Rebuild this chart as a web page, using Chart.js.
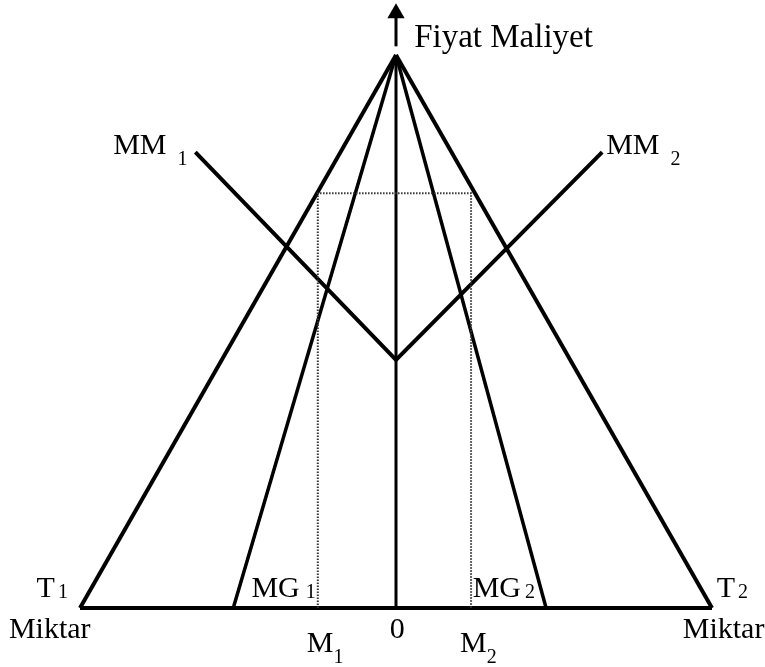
<!DOCTYPE html>
<html>
<head>
<meta charset="utf-8">
<script src="https://cdn.jsdelivr.net/npm/chart.js@4.4.1/dist/chart.umd.min.js"></script>
<style>
  html, body { margin: 0; padding: 0; background: #fff; }
  #wrap { width: 765px; height: 667px; }
</style>
</head>
<body>
<div id="wrap"><canvas id="diagram"></canvas></div>
<script>
// Data (x: quantity, left market negative / right market positive; y: price-cost)
const apex = { x: 0, y: 7 };
const demand1 = [{ x: -4, y: 0 }, apex];          // T1
const demand2 = [{ x: 4, y: 0 }, apex];           // T2
const marginalRev1 = [{ x: -2.06, y: 0 }, apex];  // MG1
const marginalRev2 = [{ x: 1.9, y: 0 }, apex];    // MG2
const quantityAxis = [{ x: -4, y: 0 }, { x: 4, y: 0 }];
const priceAxis = [{ x: 0, y: 0 }, apex];
const marginalCost = [{ x: -2.54, y: 5.77 }, { x: 0, y: 3.14 }, { x: 2.61, y: 5.77 }]; // MM1 - MM2
const optimum = [{ x: -0.99, y: 0 }, { x: -0.99, y: 5.25 }, { x: 0.95, y: 5.25 }, { x: 0.95, y: 0 }];
const arrow = [{ x: 0, y: 7.11 }, { x: 0, y: 7.53 }];

// labels: text, subscript, anchor (data units)
const labels = [
    { text: 'Fiyat Maliyet', sub: '', x: 0.23, y: 7.1, size: 33 },
    { text: 'MM', sub: '1', x: -3.58, y: 5.75, gap: 11, dy: 11 },
    { text: 'MM', sub: '2', x: 2.66, y: 5.75, gap: 11, dy: 11 },
    { text: 'T', sub: '1', x: -4.55, y: 0.14, gap: 3, dy: 1 },
    { text: 'T', sub: '2', x: 4.06, y: 0.14, gap: 3, dy: 1 },
    { text: 'MG', sub: '1', x: -1.83, y: 0.14, gap: 6, dy: 1 },
    { text: 'MG', sub: '2', x: 0.97, y: 0.14, gap: 4, dy: 1 },
    { text: 'Miktar', sub: '', x: -4.9, y: -0.38 },
    { text: 'Miktar', sub: '', x: 3.63, y: -0.38 },
    { text: '0', sub: '', x: -0.08, y: -0.38 },
    { text: 'M', sub: '1', x: -1.13, y: -0.56, gap: 0, dy: 11 },
    { text: 'M', sub: '2', x: 0.81, y: -0.56, gap: 0, dy: 11 }
];

const serif = "'Liberation Serif', 'Times New Roman', serif";

const labelPlugin = {
    id: 'labels',
    afterDatasetsDraw(chart) {
        const ctx = chart.ctx;
        const xs = chart.scales.x, ys = chart.scales.y;
        ctx.save();
        ctx.fillStyle = '#000';
        ctx.textBaseline = 'alphabetic';
        ctx.textAlign = 'left';
        labels.forEach(l => {
            const px = xs.getPixelForValue(l.x);
            const py = ys.getPixelForValue(l.y);
            ctx.font = (l.size || 30) + 'px ' + serif;
            ctx.fillText(l.text, px, py);
            if (l.sub) {
                const w = ctx.measureText(l.text).width;
                ctx.font = '20px ' + serif;
                ctx.fillText(l.sub, px + w + l.gap, py + l.dy);
            }
        });
        ctx.restore();
    }
};

function seg(data, width, extra) {
    return Object.assign({
        data: data,
        showLine: true,
        borderColor: '#000',
        borderWidth: width,
        pointRadius: 0,
        fill: false,
        clip: false
    }, extra || {});
}

const ctx = document.getElementById('diagram').getContext('2d');
new Chart(ctx, {
    type: 'scatter',
    data: {
        datasets: [
            seg(optimum, 2, { borderColor: '#333', borderDash: [1.5, 1.5] }),
            seg(quantityAxis, 4),
            seg(priceAxis, 3),
            seg(demand1, 4),
            seg(demand2, 4),
            seg(marginalRev1, 3.5),
            seg(marginalRev2, 3.5),
            seg(marginalCost, 4, { borderJoinStyle: 'miter' }),
            seg(arrow, 3, {
                pointRadius: [0, 10],
                pointStyle: 'triangle',
                pointBackgroundColor: '#000',
                pointBorderWidth: 0
            })
        ]
    },
    options: {
        responsive: true,
        maintainAspectRatio: false,
        animation: false,
        events: [],
        layout: { autoPadding: false, padding: { left: 16.8, right: 5.6, top: 1.3, bottom: 19.5 } },
        plugins: { legend: { display: false }, tooltip: { enabled: false } },
        scales: {
            x: { type: 'linear', min: -4.8, max: 4.6, display: false },
            y: { type: 'linear', min: -0.5, max: 7.68, display: false }
        }
    },
    plugins: [labelPlugin]
});
</script>
</body>
</html>
